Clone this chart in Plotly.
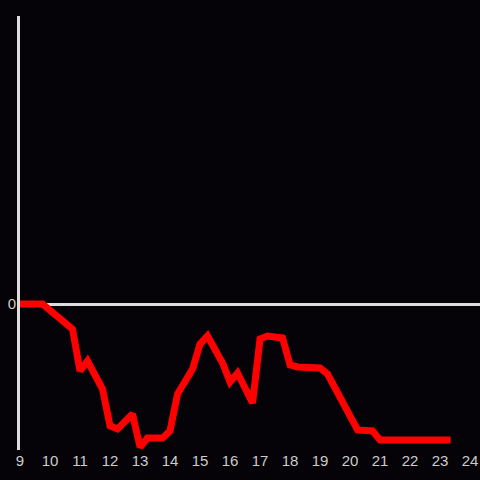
import plotly.graph_objects as go

hours = [9.0, 9.75, 10.75, 11.0, 11.25, 11.75, 12.0, 12.25, 12.75, 13.0, 13.25, 13.75,
         14.0, 14.25, 14.75, 15.0, 15.25, 15.75, 16.0, 16.25, 16.75, 17.0, 17.25, 17.75,
         18.0, 18.25, 19.0, 19.25, 20.25, 20.75, 21.0, 23.35]
values = [0, 0, -2.5, -6.7, -5.7, -8.5, -12.2, -12.5, -11.0, -14.3, -13.4, -13.4,
          -12.7, -9.0, -6.5, -4.0, -3.2, -5.9, -7.8, -6.9, -9.9, -3.5, -3.2, -3.4,
          -6.1, -6.3, -6.4, -7.0, -12.6, -12.7, -13.6, -13.6]
x_ticks = list(range(9, 25))

bg = "#050307"
axis_col = "#dddddd"

fig = go.Figure()
fig.add_trace(go.Scatter(x=hours, y=values, mode="lines",
                         line=dict(color="#ff0000", width=7), hoverinfo="skip"))

fig.update_layout(
    width=480, height=480,
    margin=dict(l=20, r=0, t=16, b=30),
    paper_bgcolor=bg, plot_bgcolor=bg,
    showlegend=False,
    font=dict(family="Liberation Sans", size=15, color="#cccccc"),
    xaxis=dict(range=[9, 24.33], tickvals=x_ticks, ticktext=[str(t) for t in x_ticks],
               showgrid=False, zeroline=False, showline=False, ticks="", ticklen=0),
    yaxis=dict(range=[-14.6, 28.8], tickvals=[0], ticktext=["0"], showgrid=False,
               zeroline=True, zerolinecolor=axis_col, zerolinewidth=3,
               showline=True, linecolor=axis_col, linewidth=3, ticks="", ticklabelstandoff=-2),
)

fig.write_html("out.html", config={"displayModeBar": False},
               post_script="document.body.style.margin='0';document.body.style.background='%s';" % bg)
